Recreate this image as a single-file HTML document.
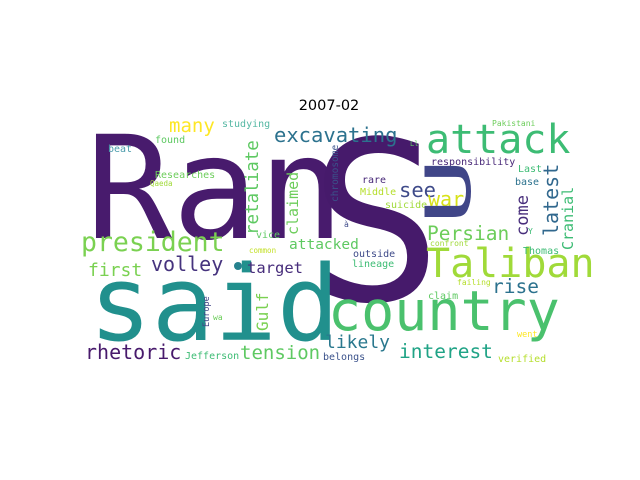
<!DOCTYPE html>
<html><head><meta charset="utf-8"><style>
html,body{margin:0;padding:0;background:#fff;}
svg{display:block;}
.w{font-family:"DejaVu Sans Mono","Liberation Mono",monospace;}
</style></head><body>
<svg width="640" height="480" viewBox="0 0 640 480" xmlns="http://www.w3.org/2000/svg">
<rect width="640" height="480" fill="#fff"/>
<text x="329" y="110" text-anchor="middle" font-family="DejaVu Sans, Liberation Sans, sans-serif" font-size="14.5" fill="#000">2007-02</text>
<g class="w">
<text x="86" y="238" font-size="143" fill="#481b6d">Ran</text>
<text x="309" y="300" font-size="222" fill="#461a6b">S</text>
<text x="89" y="340" font-size="104" fill="#21908d">said</text>
<text x="328" y="330" font-size="55" fill="#4ac16d">country</text>
<text x="426" y="153" font-size="40" fill="#3dbc74">attack</text>
<text x="426" y="277" font-size="40" fill="#a0da39">Taliban</text>
<text x="81" y="251" font-size="26.5" fill="#7ad151">president</text>
<text x="274" y="142" font-size="20.5" fill="#2c728e">excavating</text>
<text x="169" y="132" font-size="19" fill="#fde725">many</text>
<text x="222" y="127" font-size="10" fill="#56b8a4">studying</text>
<text x="155" y="143" font-size="10" fill="#5ec962">found</text>
<text x="108" y="152" font-size="10" fill="#4a9bab">beat</text>
<text x="155" y="178" font-size="10" fill="#6ccd5a">Researches</text>
<text x="150" y="186" font-size="7.5" fill="#a0da39">Qaeda</text>
<text x="258" y="235" font-size="17.5" fill="#5ec962" transform="rotate(-90 258 235)">retaliate</text>
<text x="298" y="235" font-size="15" fill="#6ccd5a" transform="rotate(-90 298 235)">claimed</text>
<text x="256" y="238" font-size="10" fill="#5ec962">vice</text>
<text x="289" y="249" font-size="14.5" fill="#5ec962">attacked</text>
<text x="249" y="253" font-size="7.5" fill="#c2df23">common</text>
<text x="88" y="276" font-size="18" fill="#7ad151">first</text>
<text x="151" y="271" font-size="20" fill="#46337e">volley</text>
<circle cx="238" cy="266" r="4" fill="#26828e"/>
<text x="247" y="273" font-size="15.5" fill="#472d7b">target</text>
<text x="268" y="331" font-size="16" fill="#7ad151" transform="rotate(-90 268 331)">Gulf</text>
<text x="209" y="327" font-size="8.5" fill="#414487" transform="rotate(-90 209 327)">Europe</text>
<text x="213" y="320" font-size="8" fill="#6ccd5a">wa</text>
<text x="85" y="359" font-size="20" fill="#481a6c">rhetoric</text>
<text x="185" y="359" font-size="10" fill="#3dbc74">Jefferson</text>
<text x="240" y="359" font-size="19" fill="#5ec962">tension</text>
<text x="325" y="348" font-size="18" fill="#2a788e">likely</text>
<text x="323" y="360" font-size="10" fill="#3b528b">belongs</text>
<text x="399" y="358" font-size="19.5" fill="#20a386">interest</text>
<text x="498" y="362" font-size="10" fill="#b5de2b">verified</text>
<text x="517" y="337" font-size="8.5" fill="#fde725">went</text>
<text x="428" y="299" font-size="10" fill="#5ec962">claim</text>
<text x="457" y="285" font-size="8" fill="#b5de2b">failing</text>
<text x="492" y="293" font-size="19.5" fill="#2c728e">rise</text>
<text x="523" y="254" font-size="10" fill="#3dbc74">Thomas</text>
<text x="430" y="246" font-size="8" fill="#a0da39">confront</text>
<text x="353" y="257" font-size="10" fill="#3e4a89">outside</text>
<text x="352" y="267" font-size="10" fill="#3dbc74">lineage</text>
<text x="427" y="240" font-size="19.5" fill="#6ccd5a">Persian</text>
<text x="344" y="227" font-size="8" fill="#3e4a89">à</text>
<text x="528" y="234" font-size="8" fill="#3dbc74">Y</text>
<text x="528" y="236" font-size="17" fill="#472d7b" transform="rotate(-90 528 236)">come</text>
<text x="558" y="236" font-size="20" fill="#31688e" transform="rotate(-90 558 236)">latest</text>
<text x="573" y="250" font-size="15" fill="#3dbc74" transform="rotate(-90 573 250)">Cranial</text>
<text x="399" y="197" font-size="20.5" fill="#3e4a89">see</text>
<text x="428" y="206" font-size="20" fill="#d8e219">war</text>
<text x="362" y="183" font-size="10" fill="#482878">rare</text>
<text x="360" y="195" font-size="10" fill="#b5de2b">Middle</text>
<text x="385" y="208" font-size="10" fill="#a0da39">suicide</text>
<text x="431" y="165" font-size="10" fill="#482878">responsibility</text>
<text x="518" y="172" font-size="10" fill="#3dbc74">Last</text>
<text x="515" y="185" font-size="10" fill="#2c728e">base</text>
<text x="410" y="146" font-size="7" fill="#5ec962">Ll</text>
<text x="492" y="126" font-size="8" fill="#6ccd5a">Pakistani</text>
<text x="338" y="202" font-size="9.5" fill="#3b528b" transform="rotate(-90 338 202)">chromosome</text>
<text x="0" y="0" font-size="62" fill="#404688" transform="translate(470 225) rotate(-90) scale(1.8 1)">U</text>
</g>
</svg>
</body></html>
